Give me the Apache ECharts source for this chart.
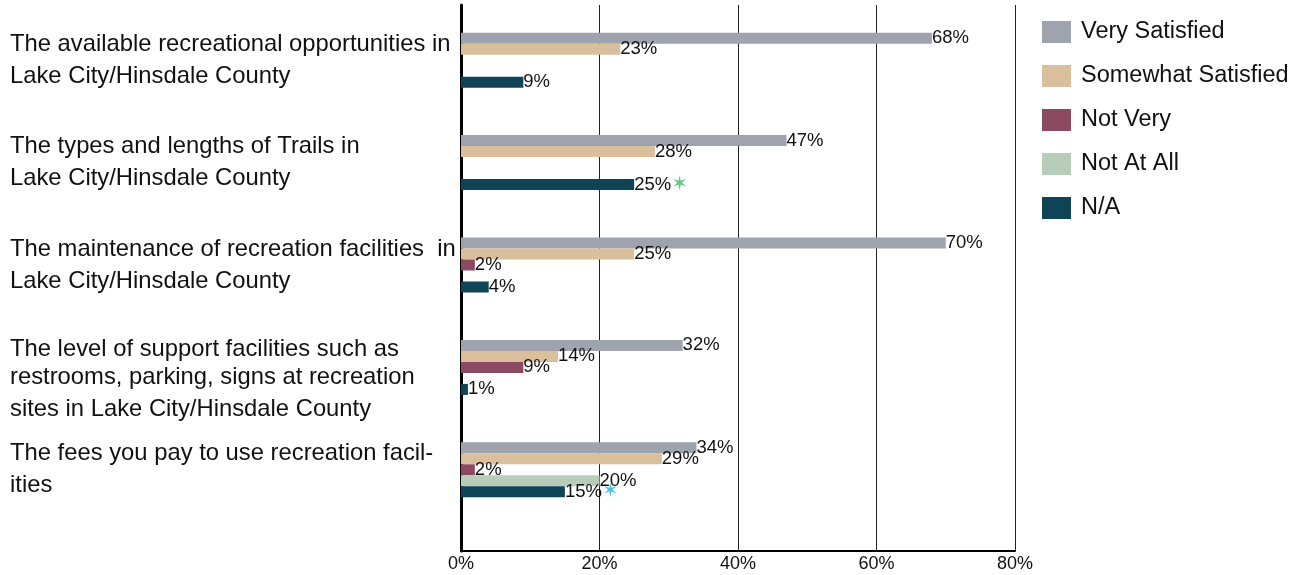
<!DOCTYPE html>
<html>
<head>
<meta charset="utf-8">
<script src="https://cdn.jsdelivr.net/npm/echarts@6/dist/echarts.min.js"></script>
<style>
html,body{margin:0;padding:0;background:#fff;}
#chart{width:1307px;height:575px;}
</style>
</head>
<body>
<div id="chart"></div>
<script>
const categories = [
  "The available recreational opportunities in\nLake City/Hinsdale County",
  "The types and lengths of Trails in\nLake City/Hinsdale County",
  "The maintenance of recreation facilities  in\nLake City/Hinsdale County",
  "The level of support facilities such as\nrestrooms, parking, signs at recreation\nsites in Lake City/Hinsdale County",
  "The fees you pay to use recreation facil-\nities"
];
const seriesNames = ["Very Satisfied", "Somewhat Satisfied", "Not Very", "Not At All", "N/A"];
const verySatisfied = [68, 47, 70, 32, 34];
const somewhatSatisfied = [23, 28, 25, 14, 29];
const notVery = [null, null, 2, 9, 2];
const notAtAll = [null, null, null, null, 20];
const notApplicable = [9, 25, 4, 1, 15];
const starred = [null, "g", null, null, "c"];   // starred N/A labels (star colour key)
const xTicks = [0, 20, 40, 60, 80];
const colors = ["#9ea3ae", "#d9bf9c", "#8c4a60", "#b7cdb9", "#0f4357"];

const FONT = "Liberation Sans";

const labelStyle = {
  show: true, position: 'right', distance: 0,
  color: '#111', fontSize: 18.5, fontFamily: FONT,
  formatter: p => p.value == null ? '' : p.value + '%',
  rich: {
    v: {color: '#111', fontSize: 18.5, fontFamily: FONT},
    g: {color: '#5dc98a', fontSize: 20, fontFamily: 'DejaVu Sans'},
    c: {color: '#4ec6e2', fontSize: 20, fontFamily: 'DejaVu Sans'}
  }
};

function mk(name, arr, idx) {
  return {
    name: name, type: 'bar', xAxisIndex: 0, yAxisIndex: 0,
    barWidth: 11, barGap: '0%', barCategoryGap: '46%',
    itemStyle: {color: colors[idx]},
    label: labelStyle,
    data: arr.map((v, i) => {
      if (idx === 4 && starred[i]) {
        return {value: v, label: {formatter: '{v|' + v + '%}{' + starred[i] + '|✶}'}};
      }
      return v;
    })
  };
}
const allData = [verySatisfied, somewhatSatisfied, notVery, notAtAll, notApplicable];

const chart = echarts.init(document.getElementById('chart'), null, {renderer: 'canvas'});
chart.setOption({
  backgroundColor: '#fff',
  animation: false,
  color: colors,
  textStyle: {fontFamily: FONT},
  legend: {
    orient: 'vertical', left: 1037, top: 13,
    itemWidth: 29, itemHeight: 22, itemGap: 16,
    icon: 'rect',
    textStyle: {fontSize: 23.5, lineHeight: 22, fontFamily: FONT, color: '#111', padding: [0, 0, 6, 5]},
    data: seriesNames
  },
  grid: [
    {left: 461, right: 292, top: 9, height: 512},
    {left: 461, right: 292, top: 5, bottom: 24}
  ],
  xAxis: [
    {gridIndex: 0, type: 'value', min: 0, max: 80, interval: 20, show: false},
    {gridIndex: 1, type: 'value', min: 0, max: 80, interval: 20,
     axisLine: {show: true, lineStyle: {color: '#000', width: 2}},
     axisTick: {show: false},
     splitLine: {show: true, lineStyle: {color: '#222', width: 1}},
     axisLabel: {formatter: v => v + '%', fontSize: 18, fontFamily: FONT, color: '#111', margin: 4},
     data: xTicks}
  ],
  yAxis: [
    {gridIndex: 0, type: 'category', inverse: true, data: categories,
     axisLine: {show: false}, axisTick: {show: false},
     axisLabel: {align: 'left', margin: 451, fontSize: 23.8, lineHeight: 32,
                 fontFamily: FONT, color: '#111',
                 formatter: (v, i) => i === 3
                   ? v.split('\n').map((l, k) => (k === 0 ? '{a|' : '{b|') + l + '}').join('\n')
                   : v,
                 rich: {
                   a: {fontSize: 23.8, fontFamily: FONT, color: '#111', lineHeight: 52, verticalAlign: 'bottom'},
                   b: {fontSize: 23.8, fontFamily: FONT, color: '#111', lineHeight: 32}
                 }}},
    {gridIndex: 1, type: 'value', min: 0, max: 1,
     axisLine: {show: true, lineStyle: {color: '#000', width: 3}},
     axisTick: {show: false}, axisLabel: {show: false}, splitLine: {show: false}}
  ],
  series: seriesNames.map((n, i) => mk(n, allData[i], i))
});
</script>
</body>
</html>
